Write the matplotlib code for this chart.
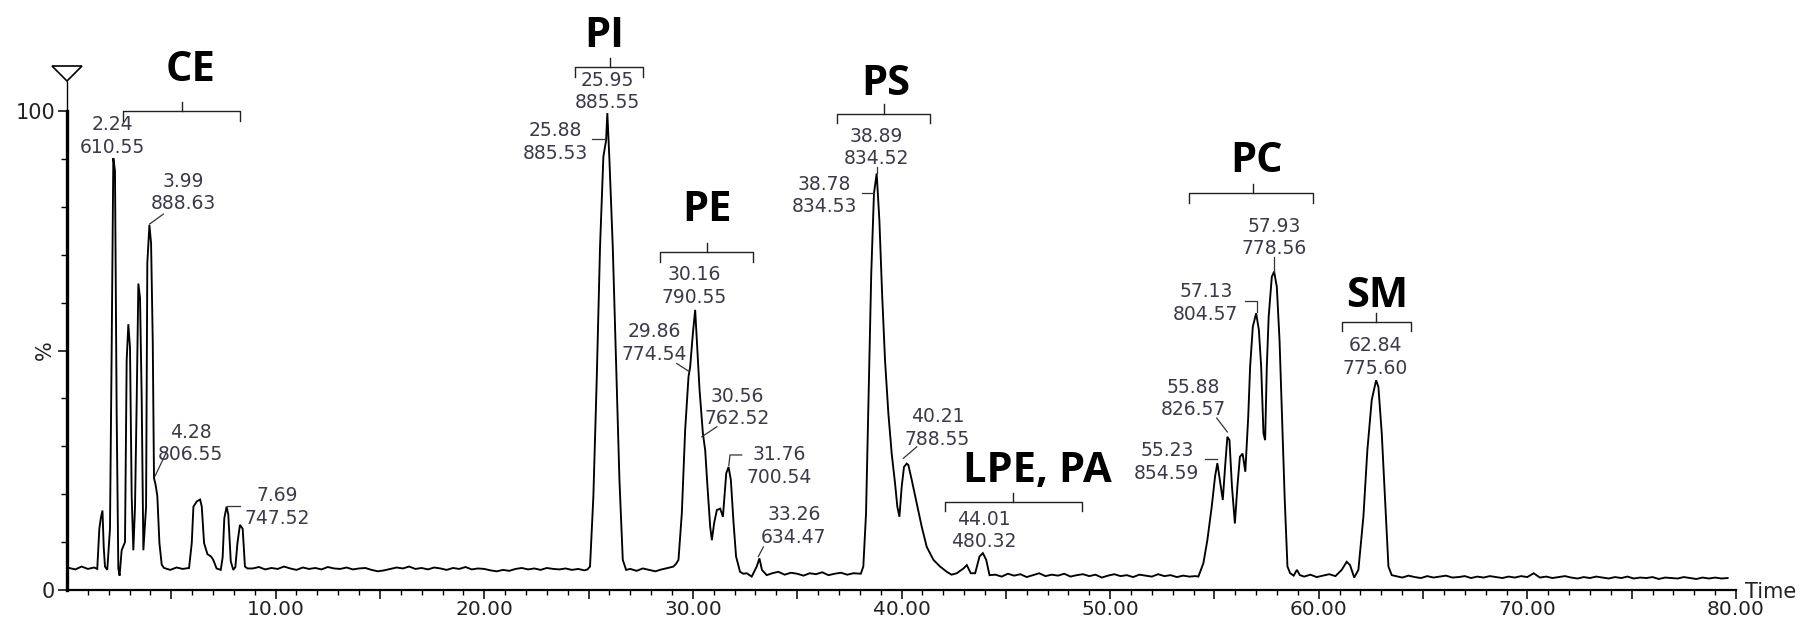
import numpy as np
import matplotlib
matplotlib.use("Agg")
import matplotlib.pyplot as plt
from matplotlib.patches import Polygon
from matplotlib.ticker import FixedLocator, FuncFormatter

plt.rcParams['font.family'] = ['DejaVu Sans']

# ------------------------------------------------------------------ data
# chromatogram trace (time in min, relative intensity in %)
ce_t = [1.45, 1.55, 1.62, 1.70, 1.76, 1.82, 1.93, 2.06, 2.14, 2.22, 2.30, 2.38, 2.46, 2.52,
        2.62, 2.78, 2.86, 2.94, 3.02, 3.10, 3.18, 3.26, 3.34, 3.42, 3.50, 3.58, 3.66, 3.79,
        3.85, 3.95, 4.03, 4.11, 4.17, 4.25, 4.33, 4.43, 4.54]
ce_y = [4.4, 12.8, 15.0, 16.6, 9.0, 4.9, 4.2, 12.8, 49.8, 90.2, 87.5, 37.0, 4.5, 3.0,
        8.3, 10.0, 48.0, 55.5, 50.6, 19.6, 8.3, 17.4, 39.3, 64.0, 61.0, 40.0, 8.3, 17.4,
        68.3, 76.2, 72.4, 52.0, 23.4, 21.9, 19.6, 9.8, 5.3]

pg_t = [5.85, 5.98, 6.06, 6.22, 6.38, 6.46, 6.57, 6.73, 6.90, 7.00, 7.17, 7.37, 7.46, 7.54,
        7.65, 7.73, 7.85, 7.97, 8.07, 8.17, 8.29, 8.42, 8.53, 8.65]
pg_y = [4.6, 9.8, 17.4, 18.5, 18.9, 17.4, 9.8, 7.5, 7.0, 6.4, 4.5, 4.2, 6.8, 15.0,
        17.4, 15.8, 6.0, 4.2, 4.8, 9.8, 13.6, 12.8, 4.9, 4.5]

pi_t = [24.95, 25.07, 25.23, 25.39, 25.55, 25.71, 25.84, 25.90, 26.00, 26.16, 26.32, 26.48,
        26.64, 26.80]
pi_y = [4.3, 4.9, 19.5, 43.8, 71.7, 90.5, 93.9, 99.6, 89.8, 71.7, 47.4, 23.0, 6.3, 4.2]

pe_t = [29.07, 29.20, 29.31, 29.47, 29.63, 29.79, 29.87, 30.00, 30.11, 30.19, 30.32, 30.48,
        30.59, 30.70, 30.83, 30.91, 31.02, 31.15, 31.31, 31.44, 31.60, 31.71, 31.82, 31.95,
        32.07, 32.26, 32.42, 32.58, 32.82, 33.06, 33.19, 33.31, 33.54]
pe_y = [4.9, 5.5, 6.3, 16.0, 33.4, 44.5, 46.6, 53.6, 58.5, 52.2, 41.8, 32.7,
        29.2, 21.6, 13.2, 10.4, 14.0, 16.7, 17.0, 15.3, 24.4, 25.7, 23.0, 14.0,
        7.0, 3.8, 3.4, 3.5, 2.8, 4.9, 6.6, 4.2, 3.1]

ps_t = [38.05, 38.17, 38.30, 38.42, 38.55, 38.68, 38.81, 38.94, 39.07, 39.21, 39.37, 39.53,
        39.69, 39.80, 39.90, 40.01, 40.12, 40.25, 40.33, 40.49, 40.73, 40.97, 41.21, 41.53,
        41.85, 42.17, 42.40, 42.65, 42.97, 43.13, 43.32, 43.53, 43.74, 43.90, 44.06, 44.22]
ps_y = [3.4, 4.9, 16.0, 40.4, 66.1, 82.8, 87.0, 77.2, 61.9, 48.0, 36.9, 28.5,
        22.3, 17.4, 15.3, 21.6, 25.7, 26.4, 26.1, 23.0, 18.1, 13.2, 9.0, 6.3,
        4.9, 3.8, 3.2, 3.5, 4.5, 5.2, 3.5, 3.5, 7.0, 7.7, 6.3, 3.1]

pc_t = [54.23, 54.47, 54.66, 54.87, 55.03, 55.14, 55.27, 55.40, 55.51, 55.62, 55.72, 55.84,
        55.98, 56.10, 56.22, 56.35, 56.48, 56.62, 56.71, 56.84, 57.00, 57.13, 57.24, 57.35,
        57.43, 57.51, 57.60, 57.75, 57.86, 57.99, 58.12, 58.24, 58.37, 58.50, 58.63, 58.80,
        58.95, 59.10]
pc_y = [2.8, 5.6, 10.4, 17.4, 23.7, 26.5, 22.6, 18.8, 25.7, 32.0, 31.3, 21.6,
        13.9, 21.6, 27.8, 28.5, 24.7, 36.2, 46.6, 55.0, 57.8, 54.3, 46.6, 32.7,
        31.3, 46.6, 57.1, 65.4, 66.5, 63.3, 52.2, 36.2, 18.8, 4.9, 3.5, 3.0,
        4.2, 3.1]

sm_t = [61.10, 61.34, 61.50, 61.70, 61.90, 62.14, 62.33, 62.54, 62.75, 62.86, 63.02, 63.18,
        63.34, 63.50]
sm_y = [4.2, 5.9, 5.2, 2.6, 4.2, 15.3, 29.2, 39.7, 43.8, 42.4, 32.7, 18.8, 4.9, 3.1]

# baseline stretches: (first time, sampling step) and the values read along them
base1_start, base1_step = 0.10, 0.3
base1_y = [4.6, 4.3, 4.9, 4.4, 4.7]
base2_start, base2_step = 4.65, 0.3
base2_y = [4.6, 4.2, 4.7, 4.4]
base3_start, base3_step = 8.90, 0.3
base3_y = [4.5, 4.8, 4.3, 4.6, 4.4, 4.9, 4.5, 4.2, 4.7, 4.4,
           4.6, 4.3, 4.8, 4.5, 4.4, 4.7, 4.3, 4.5, 4.6, 4.2,
           3.9, 4.1, 4.4, 4.7, 4.5, 4.9, 4.4, 4.6, 4.3, 4.7,
           4.5, 4.2, 4.6, 4.4, 4.8, 4.3, 4.5, 4.4, 4.1, 3.9,
           4.2, 4.0, 4.4, 4.6, 4.3, 4.5, 4.2, 4.6, 4.4, 4.3,
           4.5, 4.2, 4.4, 4.1]
base4_start, base4_step = 27.0, 0.3
base4_y = [4.4, 4.0, 4.5, 4.2, 3.9, 4.3, 4.6]
base5_start, base5_step = 33.8, 0.3
base5_y = [3.5, 3.8, 3.2, 3.6, 3.4, 3.0, 3.5, 3.3, 3.7, 3.1, 3.4, 3.6, 3.2, 3.5]
base6_start, base6_step = 44.5, 0.3
base6_y = [3.2, 2.8, 3.4, 3.0, 3.3, 2.7, 3.1, 3.5, 2.9, 3.2,
           3.0, 3.4, 2.8, 3.1, 3.3, 2.9, 3.2, 2.6, 3.0, 3.3,
           2.9, 3.1, 2.7, 3.2, 3.0, 2.8, 3.3, 2.9, 3.1, 2.7,
           3.0, 2.8, 2.9]
base7_start, base7_step = 59.3, 0.3
base7_y = [2.8, 3.2, 2.7, 3.0, 3.3, 2.9]
base8_start, base8_step = 63.7, 0.3
base8_y = [2.9, 2.6, 3.0, 2.7, 2.5, 2.9, 2.6, 2.8, 3.0, 2.6,
           2.7, 2.9, 2.5, 2.8, 2.6, 2.9, 2.7, 2.5, 2.8, 2.6,
           2.9, 2.7, 3.5, 2.6, 2.8, 2.5, 2.7, 2.9, 2.6, 2.4,
           2.7, 2.5, 2.8, 2.6, 2.4, 2.7, 2.5, 2.8, 2.4, 2.6,
           2.5, 2.7, 2.3, 2.6, 2.5, 2.4, 2.7, 2.5, 2.3, 2.6,
           2.4, 2.6, 2.4, 2.5]

# lipid classes and labelled peaks (retention time / m/z)
class_names = ["CE", "PI", "PE", "PS", "LPE, PA", "PC", "SM"]
peak_rt = ["2.24", "3.99", "4.28", "7.69", "25.95", "25.88", "30.16", "29.86", "30.56",
           "31.76", "33.26", "38.89", "38.78", "40.21", "44.01", "57.93", "57.13",
           "55.88", "55.23", "62.84"]
peak_mz = ["610.55", "888.63", "806.55", "747.52", "885.55", "885.53", "790.55", "774.54",
           "762.52", "700.54", "634.47", "834.52", "834.53", "788.55", "480.32", "778.56",
           "804.57", "826.57", "854.59", "775.60"]

x_ticks_labelled = [10, 20, 30, 40, 50, 60, 70, 80]
y_tick_values = [0, 50, 100]
y_tick_labels = ["0", "%", "100"]
x_axis_title = "Time"

# ------------------------------------------------------------------ layout
# label centre (time, %) and leader-line vertices for each labelled peak
peak_label_layout = [
    (2.19, 94.8, []),
    (5.58, 83.0, [(4.62, 78.5), (3.95, 76.4)]),
    (5.93, 30.6, [(4.78, 28.9), (4.22, 23.8)]),
    (10.09, 17.4, [(8.30, 17.6), (7.66, 17.6)]),
    (25.90, 104.1, []),
    (23.39, 93.5, [(25.15, 94.1), (25.79, 94.1)]),
    (30.06, 63.5, []),
    (28.14, 51.6, [(29.23, 47.3), (29.83, 45.6)]),
    (32.13, 38.1, [(31.15, 34.1), (30.43, 32.0)]),
    (34.13, 25.9, [(32.34, 28.2), (31.78, 28.2), (31.72, 26.0)]),
    (34.84, 13.4, [(33.38, 9.0), (33.14, 7.0)]),
    (38.81, 92.4, [(38.83, 88.3), (38.83, 87.0)]),
    (36.29, 82.4, [(38.10, 83.0), (38.69, 83.0)]),
    (41.72, 33.8, [(40.73, 29.9), (40.09, 27.5)]),
    (43.93, 12.4, []),
    (57.85, 73.6, [(57.86, 69.5), (57.86, 66.5)]),
    (54.59, 59.9, [(56.47, 60.3), (57.06, 60.3), (57.06, 58.0)]),
    (54.00, 40.0, [(55.11, 35.9), (55.62, 33.0)]),
    (52.72, 26.8, [(54.55, 27.3), (55.11, 27.3)]),
    (62.70, 48.7, []),
]
# class label: text x, baseline y, bracket left, right, centre, bracket y
class_layout = [
    (5.90, 106.4, 2.68, 8.29, 5.50, 100.0),
    (25.77, 113.4, 24.35, 27.63, 26.03, 109.2),
    (30.70, 77.0, 28.43, 32.89, 30.66, 70.6),
    (39.25, 103.3, 36.90, 41.37, 39.17, 99.5),
    (46.52, 22.6, 42.10, 48.66, 45.35, 18.4),
    (57.03, 87.3, 53.80, 59.73, 56.84, 82.9),
    (62.78, 59.1, 61.10, 64.40, 62.75, 56.0),
]

W, H = 1800, 619
AX_L, AX_B, AX_W, AX_H = 67, 29, 1669, 509
fig = plt.figure(figsize=(W / 100, H / 100), dpi=100)
ax = fig.add_axes([AX_L / W, AX_B / H, AX_W / W, AX_H / H])


def base_series(start, step, vals):
    return list(start + step * np.arange(len(vals))), list(vals)


segments = [
    base_series(base1_start, base1_step, base1_y), (ce_t, ce_y),
    base_series(base2_start, base2_step, base2_y), (pg_t, pg_y),
    base_series(base3_start, base3_step, base3_y), (pi_t, pi_y),
    base_series(base4_start, base4_step, base4_y), (pe_t, pe_y),
    base_series(base5_start, base5_step, base5_y), (ps_t, ps_y),
    base_series(base6_start, base6_step, base6_y), (pc_t, pc_y),
    base_series(base7_start, base7_step, base7_y), (sm_t, sm_y),
    base_series(base8_start, base8_step, base8_y),
]
t_all = np.concatenate([np.asarray(s[0], float) for s in segments])
y_all = np.concatenate([np.asarray(s[1], float) for s in segments])
order = np.argsort(t_all, kind="stable")
ax.plot(t_all[order], y_all[order], color="black", lw=1.35, solid_joinstyle="miter")

YTOP = 106.3
ax.set_xlim(0, 80)
ax.set_ylim(0, YTOP)

for s in ("top", "right"):
    ax.spines[s].set_visible(False)
ax.spines["left"].set_linewidth(2.4)
ax.spines["left"].set_bounds(0, 100)
ax.spines["bottom"].set_linewidth(1.6)
ax.plot([0, 0], [100, YTOP], color="black", lw=1.0, clip_on=False, solid_capstyle="butt")

# x ticks
ax.xaxis.set_major_locator(FixedLocator(np.arange(5, 81, 5)))
ax.xaxis.set_major_formatter(FuncFormatter(
    lambda v, p: f"{v:.2f}" if int(round(v)) in x_ticks_labelled else ""))
ax.xaxis.set_minor_locator(FixedLocator(np.arange(1, 81, 1)))
ax.tick_params(axis="x", which="major", length=6.5, width=1.1, pad=1.0,
               labelsize=14.5, colors="black", labelcolor="#222222")
ax.tick_params(axis="x", which="minor", length=3.8, width=1.0)

# y ticks
ax.set_yticks(y_tick_values)
ax.set_yticklabels(y_tick_labels)
ax.yaxis.set_minor_locator(FixedLocator([10, 20, 30, 40, 60, 70, 80, 90]))
ax.tick_params(axis="y", which="major", length=6.5, width=1.1, pad=2.0,
               labelsize=15, labelcolor="#222222")
ax.tick_params(axis="y", which="minor", length=4.0, width=1.0)
ax.get_yticklabels()[1].set_rotation(90)
ax.get_yticklabels()[1].set_va("center")

# triangle marker on top of y axis
tip_x, tip_y = AX_L / W, (AX_B + AX_H) / H
tri = Polygon([[tip_x - 15 / W, tip_y + 15 / H], [tip_x + 15 / W, tip_y + 15 / H],
               [tip_x, tip_y]], closed=True, facecolor="white", edgecolor="black",
              lw=1.2, transform=fig.transFigure)
fig.add_artist(tri)

# Time label
ax.text(80.44, -1.7, x_axis_title, ha="left", va="baseline", fontsize=15,
        color="#222222", clip_on=False)

# peak labels
label_color = "#3a3a48"
for rt, mz, (lx, ly, leader) in zip(peak_rt, peak_mz, peak_label_layout):
    ax.text(lx, ly, f"{rt}\n{mz}", ha="center", va="center", multialignment="center",
            fontsize=13.5, color=label_color, linespacing=1.25, clip_on=False)
    if leader:
        xs, ys = zip(*leader)
        ax.plot(xs, ys, color="#333333", lw=0.9, clip_on=False)

# class labels with brackets
for name, (tx, ty, bl, br, bc, by) in zip(class_names, class_layout):
    ax.text(tx, ty, name, ha="center", va="baseline", fontsize=30,
            fontfamily="Open Sans", fontweight="bold", color="black", clip_on=False)
    ax.plot([bl, bl, br, br], [by - 2.0, by, by, by - 2.0], color="#222222", lw=1.0,
            clip_on=False)
    ax.plot([bc, bc], [by, by + 1.9], color="#222222", lw=1.0, clip_on=False)

fig.savefig("out.png", dpi=100, facecolor="white")
